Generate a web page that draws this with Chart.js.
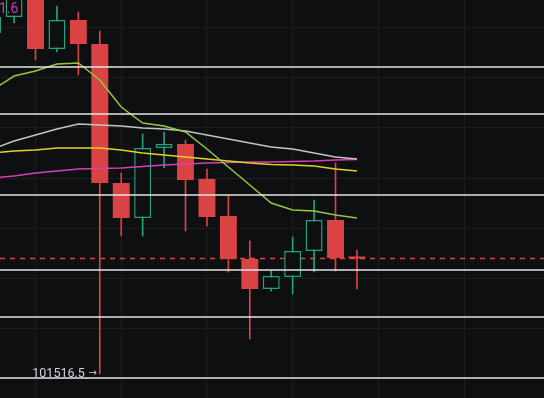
<!DOCTYPE html>
<html>
<head>
<meta charset="utf-8">
<script src="https://cdn.jsdelivr.net/npm/chart.js@4/dist/chart.umd.min.js"></script>
<style>
  html, body { margin: 0; padding: 0; background: #0e0f11; overflow: hidden; }
  #wrap { width: 544px; height: 398px; }
</style>
</head>
<body>
<div id="wrap"><canvas id="c" width="544" height="398"></canvas></div>
<script>
// ---- data ----
const candleIdx = [0,1,2,3,4,5,6,7,8,9,10,11,12,13,14,15,16,17];
const opens  = [102880,102944,103036,102816,102932,102836,102280,102140,102420,102436,102296,102148,101976,101856,101904,102008,102132,101986];
const closes = [102944,103044,102816,102932,102836,102280,102140,102420,102436,102292,102144,101976,101856,101908,102008,102132,101980,101978];
const highs  = [102964,103072,103060,102988,102964,102888,102320,102476,102484,102452,102336,102228,102048,101928,102064,102212,102360,102012];
const lows   = [102868,102920,102772,102804,102712,101516.5,102068,102068,102340,102088,102108,101924,101656,101848,101836,101924,101928,101856];

const maGreen   = [102652,102708,102728,102756,102760,102692,102584,102520,102508,102484,102416,102344,102272,102200,102172,102168,102152,102140];
const maGrey    = [102416,102448,102472,102496,102516,102512,102508,102500,102496,102488,102472,102456,102440,102424,102416,102400,102384,102376];
const maYellow  = [102400,102408,102412,102420,102420,102420,102412,102400,102392,102384,102376,102368,102360,102354,102352,102348,102336,102328];
const maMagenta = [102300,102308,102320,102328,102336,102338,102340,102346,102352,102356,102360,102362,102364,102364,102366,102368,102372,102374];

const levelPrices = [102744, 102556, 102232, 101932, 101744, 101500];
const gridIdx = [2, 6, 10, 14, 18, 22];
const gridPrices = [101500, 101700, 101900, 102100, 102300, 102500, 102700, 102900];
const lowLabelIndex = 5;
const lowLabelText = '101516.5';
const lowLabelArrow = '\u2192';
const topLabelText = '1.6';

// ---- styles ----
const BG = '#0e0f11';
const RED = '#d94343';
const GREEN = '#26a27b';

const isUp = i => closes[i] >= opens[i];

const bodies = candleIdx.map(i => ({ x: i, y: [opens[i], closes[i]] }));
const wicks  = candleIdx.map(i => ({ x: i, y: [lows[i], highs[i]] }));
const toPts = arr => candleIdx.map(i => ({ x: i, y: arr[i] }));

const bgPlugin = {
  id: 'bg',
  beforeDraw(chart) {
    const { ctx, width, height } = chart;
    ctx.save();
    ctx.fillStyle = BG;
    ctx.fillRect(0, 0, width, height);
    ctx.restore();
  },
  beforeDatasetsDraw(chart) {
    const { ctx, chartArea, scales } = chart;
    const y = scales.y.getPixelForValue(closes[closes.length - 1]);
    ctx.save();
    ctx.strokeStyle = RED;
    ctx.lineWidth = 1.5;
    ctx.setLineDash([5, 5]);
    ctx.beginPath();
    ctx.moveTo(chartArea.left, y);
    ctx.lineTo(chartArea.right, y);
    ctx.stroke();
    ctx.restore();
  },
  afterDatasetsDraw(chart) {
    const { ctx, chartArea, scales } = chart;
    ctx.save();
    ctx.strokeStyle = '#e6e6e6';
    ctx.lineWidth = 1.5;
    levelPrices.forEach(p => {
      const y = scales.y.getPixelForValue(p);
      ctx.beginPath();
      ctx.moveTo(chartArea.left, y);
      ctx.lineTo(chartArea.right, y);
      ctx.stroke();
    });
    // low label
    const wx = scales.x.getPixelForValue(lowLabelIndex);
    const ly = scales.y.getPixelForValue(lows[lowLabelIndex]);
    ctx.fillStyle = '#d1d4dc';
    ctx.textBaseline = 'alphabetic';
    ctx.font = '10px "DejaVu Sans"';
    ctx.textAlign = 'right';
    ctx.fillText(lowLabelArrow, wx - 3, ly + 2);
    ctx.font = '12.5px Roboto';
    ctx.fillText(lowLabelText, wx - 15, ly + 3);
    // top-left cut label
    ctx.font = '14px Roboto';
    ctx.fillStyle = '#c23fb0';
    ctx.textAlign = 'left';
    ctx.fillText(topLabelText, -1, 13);
    ctx.restore();
  }
};

const lineDs = (label, arr, color) => ({
  type: 'line', label, data: toPts(arr), borderColor: color, borderWidth: 1.5,
  pointRadius: 0, tension: 0, fill: false, order: 0
});

new Chart(document.getElementById('c'), {
  type: 'bar',
  data: {
    datasets: [
      lineDs('MA1', maGreen, '#93c83e'),
      lineDs('MA2', maGrey, '#c4c4c4'),
      lineDs('MA3', maYellow, '#e0d424'),
      lineDs('MA4', maMagenta, '#d93db8'),
      {
        label: 'body', data: bodies, order: 1, grouped: false,
        categoryPercentage: 1, barPercentage: 0.79,
        borderSkipped: false,
        backgroundColor: ctx => isUp(ctx.dataIndex) ? BG : RED,
        borderColor: ctx => isUp(ctx.dataIndex) ? GREEN : RED,
        borderWidth: ctx => isUp(ctx.dataIndex) ? 1.5 : 0
      },
      {
        label: 'wick', data: wicks, order: 2, grouped: false,
        barThickness: 1, borderSkipped: false, borderWidth: 0,
        backgroundColor: ctx => isUp(ctx.dataIndex) ? GREEN : RED
      }
    ]
  },
  plugins: [bgPlugin],
  options: {
    responsive: false,
    animation: false,
    layout: { padding: 0 },
    plugins: { legend: { display: false }, tooltip: { enabled: false } },
    scales: {
      x: {
        type: 'linear', min: 0.3434, max: 25.729, offset: false,
        afterBuildTicks: s => { s.ticks = gridIdx.map(v => ({ value: v })); },
        afterFit: s => { s.height = 0; },
        ticks: { display: false },
        grid: { color: '#1c1e22', lineWidth: 1, drawTicks: false, offset: false },
        border: { display: false }
      },
      y: {
        type: 'linear', min: 101420, max: 103012,
        afterBuildTicks: s => { s.ticks = gridPrices.map(v => ({ value: v })); },
        afterFit: s => { s.width = 0; },
        ticks: { display: false },
        grid: { color: '#1c1e22', lineWidth: 1, drawTicks: false },
        border: { display: false }
      }
    }
  }
});
</script>
</body>
</html>
